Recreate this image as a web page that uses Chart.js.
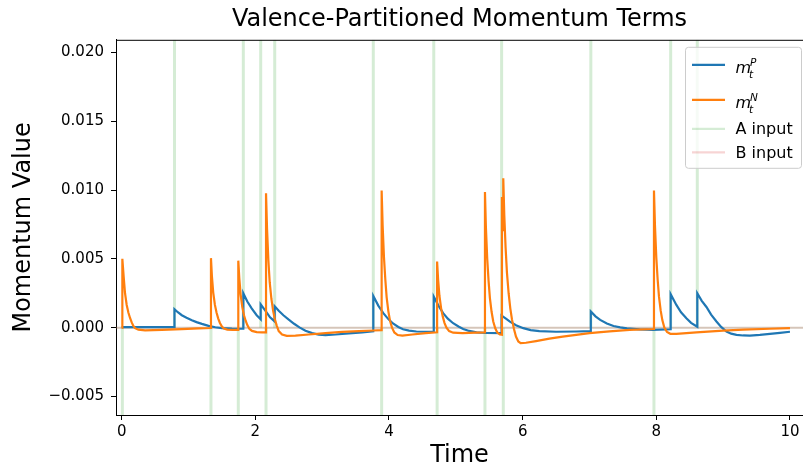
<!DOCTYPE html>
<html>
<head>
<meta charset="utf-8">
<script src="https://cdn.jsdelivr.net/npm/chart.js@4.4.1/dist/chart.umd.min.js"></script>
<style>
html, body { margin: 0; padding: 0; background: #fff; overflow: hidden; }
</style>
</head>
<body>
<canvas id="myChart" width="803" height="472"></canvas>
<script>
// [time, value]
const mPPoints = [
  [0.00, 0.00003], [0.79, 0.00003], [0.79, 0.00134], [0.84, 0.00112], [0.90, 0.00090],
  [0.97, 0.00072], [1.05, 0.00054], [1.12, 0.00040], [1.20, 0.00027], [1.30, 0.00013],
  [1.40, 0.00003], [1.50, -0.00003], [1.65, -0.00007], [1.82, -0.00008], [1.82, 0.00250],
  [1.88, 0.00190], [1.945, 0.00140], [2.02, 0.00090], [2.08, 0.00060], [2.08, 0.00170],
  [2.16, 0.00117], [2.22, 0.00075], [2.29, 0.00045], [2.29, 0.00155], [2.35, 0.00122],
  [2.42, 0.00090], [2.50, 0.00058], [2.58, 0.00028], [2.66, 0.00002], [2.75, -0.00022],
  [2.85, -0.00040], [2.95, -0.00051], [3.05, -0.00054], [3.20, -0.00050], [3.40, -0.00042],
  [3.60, -0.00034], [3.765, -0.00027], [3.765, 0.00230], [3.84, 0.00160], [3.915, 0.00105],
  [3.99, 0.00062], [4.06, 0.00030], [4.14, 0.00005], [4.21, -0.00012], [4.30, -0.00022],
  [4.41, -0.00028], [4.55, -0.00030], [4.67, -0.00030], [4.67, 0.00225], [4.74, 0.00160],
  [4.81, 0.00105], [4.88, 0.00065], [4.96, 0.00032], [5.04, 0.00008], [5.11, -0.00010],
  [5.20, -0.00024], [5.31, -0.00034], [5.45, -0.00039], [5.685, -0.00040], [5.685, 0.00087],
  [5.76, 0.00062], [5.81, 0.00044], [5.90, 0.00018], [6.01, -0.00004], [6.12, -0.00018],
  [6.25, -0.00026], [6.50, -0.00030], [6.80, -0.00028], [7.02, -0.00025], [7.02, 0.00117],
  [7.09, 0.00082], [7.16, 0.00056], [7.26, 0.00030], [7.36, 0.00012], [7.46, 0.00002],
  [7.56, -0.00005], [7.75, -0.00013], [7.95, -0.00016], [8.215, -0.00012], [8.215, 0.00243],
  [8.30, 0.00165], [8.37, 0.00112], [8.45, 0.00068], [8.52, 0.00035], [8.613, 0.00007],
  [8.613, 0.00250], [8.68, 0.00195], [8.75, 0.00150], [8.82, 0.00095], [8.90, 0.00045],
  [8.97, 0.00005], [9.05, -0.00028], [9.12, -0.00044], [9.20, -0.00053], [9.30, -0.00057],
  [9.40, -0.00058], [9.55, -0.00053], [9.70, -0.00046], [9.85, -0.00038], [10.00, -0.00030]
];

const mNPoints = [
  [0.00, 0.00000], [0.01, 0.00000], [0.01, 0.00500], [0.03, 0.00370], [0.05, 0.00250],
  [0.075, 0.00165], [0.10, 0.00110], [0.125, 0.00070], [0.15, 0.00038], [0.175, 0.00012],
  [0.20, -0.00004], [0.25, -0.00015], [0.35, -0.00020], [0.60, -0.00017], [0.90, -0.00011],
  [1.15, -0.00006], [1.336, -0.00003], [1.336, 0.00505], [1.35, 0.00375], [1.37, 0.00255],
  [1.395, 0.00165], [1.42, 0.00108], [1.445, 0.00066], [1.47, 0.00034], [1.50, 0.00008],
  [1.53, -0.00006], [1.58, -0.00014], [1.66, -0.00017], [1.745, -0.00017], [1.745, 0.00487],
  [1.76, 0.00360], [1.78, 0.00240], [1.805, 0.00150], [1.83, 0.00090], [1.855, 0.00050],
  [1.88, 0.00018], [1.91, -0.00008], [1.95, -0.00024], [2.02, -0.00032], [2.10, -0.00034],
  [2.16, -0.00034], [2.16, 0.00977], [2.175, 0.00720], [2.195, 0.00490], [2.215, 0.00330],
  [2.24, 0.00210], [2.265, 0.00125], [2.29, 0.00065], [2.32, 0.00015], [2.35, -0.00025],
  [2.40, -0.00050], [2.47, -0.00060], [2.60, -0.00058], [2.80, -0.00050], [3.05, -0.00040],
  [3.30, -0.00031], [3.55, -0.00025], [3.765, -0.00021], [3.89, -0.00018], [3.89, 0.00996],
  [3.905, 0.00740], [3.925, 0.00510], [3.945, 0.00350], [3.965, 0.00220], [3.99, 0.00120],
  [4.015, 0.00050], [4.045, 0.00000], [4.08, -0.00035], [4.13, -0.00054], [4.20, -0.00058],
  [4.35, -0.00050], [4.55, -0.00040], [4.72, -0.00034], [4.72, 0.00480], [4.735, 0.00350],
  [4.755, 0.00230], [4.78, 0.00140], [4.805, 0.00080], [4.83, 0.00035], [4.86, 0.00000],
  [4.90, -0.00025], [4.96, -0.00037], [5.10, -0.00040], [5.30, -0.00036], [5.436, -0.00034],
  [5.436, 0.00985], [5.45, 0.00730], [5.47, 0.00500], [5.49, 0.00340], [5.51, 0.00215],
  [5.535, 0.00115], [5.56, 0.00045], [5.59, -0.00005], [5.62, -0.00035], [5.66, -0.00050],
  [5.69, -0.00052], [5.69, 0.00950], [5.71, 0.00700], [5.71, 0.01086], [5.725, 0.00820],
  [5.745, 0.00580], [5.765, 0.00400], [5.79, 0.00250], [5.815, 0.00140], [5.84, 0.00060],
  [5.87, -0.00010], [5.90, -0.00065], [5.935, -0.00100], [5.97, -0.00112], [6.05, -0.00110],
  [6.20, -0.00098], [6.40, -0.00080], [6.60, -0.00066], [6.80, -0.00052], [7.00, -0.00040],
  [7.30, -0.00027], [7.60, -0.00017], [7.965, -0.00010], [7.965, 0.00996], [7.98, 0.00740],
  [8.00, 0.00510], [8.02, 0.00350], [8.04, 0.00225], [8.065, 0.00125], [8.09, 0.00055],
  [8.12, 0.00000], [8.16, -0.00032], [8.21, -0.00045], [8.30, -0.00045], [8.60, -0.00034],
  [9.00, -0.00022], [9.30, -0.00015], [9.70, -0.00008], [10.00, -0.00003]
];

// input event times; the marker line covers the upper or the lower part of the plot
const aInputUpper = [0.79, 1.82, 2.08, 2.29, 3.765, 4.67, 5.685, 7.02, 8.215, 8.613];
const aInputLower = [0.01, 1.336, 1.745, 2.16, 3.89, 4.72, 5.436, 5.71, 7.965];
const bInputTimes = [];

const xTicks = [0, 2, 4, 6, 8, 10];
const yTicks = [-0.005, 0, 0.005, 0.01, 0.015, 0.02];
const X_MIN = -0.085, X_MAX = 10.195;
const Y_MIN = -0.00635, Y_MAX = 0.02092;

Chart.defaults.font.family = "'DejaVu Sans', sans-serif";
Chart.defaults.color = '#000';

var toXY = function (p) { return {x: p[0], y: p[1]}; };

var inputLines = [];
aInputUpper.forEach(function (t) { inputLines.push({x: t, y: 0}, {x: t, y: Y_MAX}, {x: t, y: null}); });
aInputLower.forEach(function (t) { inputLines.push({x: t, y: Y_MIN}, {x: t, y: 0}, {x: t, y: null}); });

var bLines = [];
bInputTimes.forEach(function (t) { bLines.push({x: t, y: Y_MIN}, {x: t, y: Y_MAX}, {x: t, y: null}); });

// top spine (the right one falls outside the picture)
var framePlugin = {
  id: 'frame',
  afterDatasetsDraw: function (chart) {
    var a = chart.chartArea, ctx = chart.ctx;
    ctx.save();
    ctx.strokeStyle = '#000';
    ctx.lineWidth = 1;
    ctx.beginPath();
    ctx.moveTo(a.left, a.top + 0.5);
    ctx.lineTo(a.right + 5, a.top + 0.5);
    ctx.stroke();
    ctx.restore();
  }
};

// legend with m_t^P / m_t^N labels
var legendPlugin = {
  id: 'mathLegend',
  afterDraw: function (chart) {
    var ctx = chart.ctx, a = chart.chartArea;
    var ds = chart.data.datasets;
    var bx = a.right - 117.5, by = a.top + 7.5, bw = 116, bh = 121;
    ctx.save();
    ctx.beginPath();
    ctx.roundRect(bx, by, bw, bh, 3);
    ctx.fillStyle = 'rgba(255,255,255,0.8)';
    ctx.fill();
    ctx.strokeStyle = '#cccccc';
    ctx.lineWidth = 1;
    ctx.stroke();

    var rows = [
      {ds: ds[0], y: by + 17.5, sup: 'P'},
      {ds: ds[1], y: by + 52.5, sup: 'N'},
      {ds: ds[2], y: by + 81.5, text: 'A input'},
      {ds: ds[3], y: by + 105, text: 'B input'}
    ];
    var lx = bx + 6.5, tx = bx + 50;
    rows.forEach(function (r) {
      ctx.strokeStyle = r.ds.borderColor;
      ctx.lineWidth = 2.2;
      ctx.beginPath();
      ctx.moveTo(lx, r.y);
      ctx.lineTo(lx + 33, r.y);
      ctx.stroke();
      ctx.fillStyle = '#000';
      if (r.text) {
        ctx.font = "16px 'DejaVu Sans'";
        ctx.textBaseline = 'middle';
        ctx.fillText(r.text, tx, r.y + 1.5);
      } else {
        var base = r.y + 8;
        ctx.textBaseline = 'alphabetic';
        ctx.font = "italic 16px 'DejaVu Sans'";
        ctx.fillText('m', tx, base);
        ctx.font = "italic 10.5px 'DejaVu Sans'";
        ctx.fillText(r.sup, tx + 14.5, base - 7);
        ctx.fillText('t', tx + 13.5, base + 5);
      }
    });
    ctx.restore();
  }
};

var ctx = document.getElementById('myChart').getContext('2d');
var myChart = new Chart(ctx, {
  type: 'line',
  data: {
    datasets: [
      { label: 'm_t^P', data: mPPoints.map(toXY), borderColor: '#1f77b4', borderWidth: 2.2,
        pointRadius: 0, tension: 0, order: 2 },
      { label: 'm_t^N', data: mNPoints.map(toXY), borderColor: '#ff7f0e', borderWidth: 2.2,
        pointRadius: 0, tension: 0, order: 1 },
      { label: 'A input', data: inputLines, borderColor: 'rgba(44,160,44,0.2)', borderWidth: 3,
        pointRadius: 0, order: 4 },
      { label: 'B input', data: bLines, borderColor: 'rgba(214,39,40,0.2)', borderWidth: 3,
        pointRadius: 0, order: 5 },
      { label: 'zero', data: [{x: X_MIN, y: 0}, {x: X_MAX, y: 0}], borderColor: 'rgba(150,110,80,0.4)',
        borderWidth: 2, pointRadius: 0, order: 3 }
    ]
  },
  options: {
    responsive: false,
    animation: false,
    devicePixelRatio: 1,
    layout: { padding: 0 },
    plugins: {
      legend: { display: false },
      tooltip: { enabled: false },
      title: {
        display: true,
        text: 'Valence-Partitioned Momentum Terms',
        font: { size: 24, weight: 'normal' },
        padding: { top: 5, bottom: 6 },
        fullSize: false
      }
    },
    scales: {
      x: {
        type: 'linear',
        min: X_MIN,
        max: X_MAX,
        afterBuildTicks: function (scale) { scale.ticks = xTicks.map(function (v) { return {value: v}; }); },
        afterFit: function (scale) { scale.height = 57; },
        ticks: { font: { size: 15 }, padding: 3, maxRotation: 0,
                 callback: function (v) { return String(v); } },
        grid: { drawOnChartArea: false, drawTicks: true, tickLength: 5, color: '#000', lineWidth: 1 },
        border: { display: true, color: '#000', width: 1 },
        title: { display: true, text: 'Time', font: { size: 24 }, padding: { top: 0, bottom: 2 } }
      },
      y: {
        type: 'linear',
        min: Y_MIN,
        max: Y_MAX,
        afterBuildTicks: function (scale) { scale.ticks = yTicks.map(function (v) { return {value: v}; }); },
        afterFit: function (scale) { scale.width = 116; },
        ticks: { font: { size: 15 }, padding: 7,
                 callback: function (v) { return (v < 0 ? '\u2212' : '') + Math.abs(v).toFixed(3); } },
        grid: { drawOnChartArea: false, drawTicks: true, tickLength: 5, color: '#000', lineWidth: 1 },
        border: { display: true, color: '#000', width: 1 },
        title: { display: true, text: 'Momentum Value', font: { size: 24 }, padding: { top: 9, bottom: 0 } }
      }
    }
  },
  plugins: [framePlugin, legendPlugin]
});
</script>
</body>
</html>
